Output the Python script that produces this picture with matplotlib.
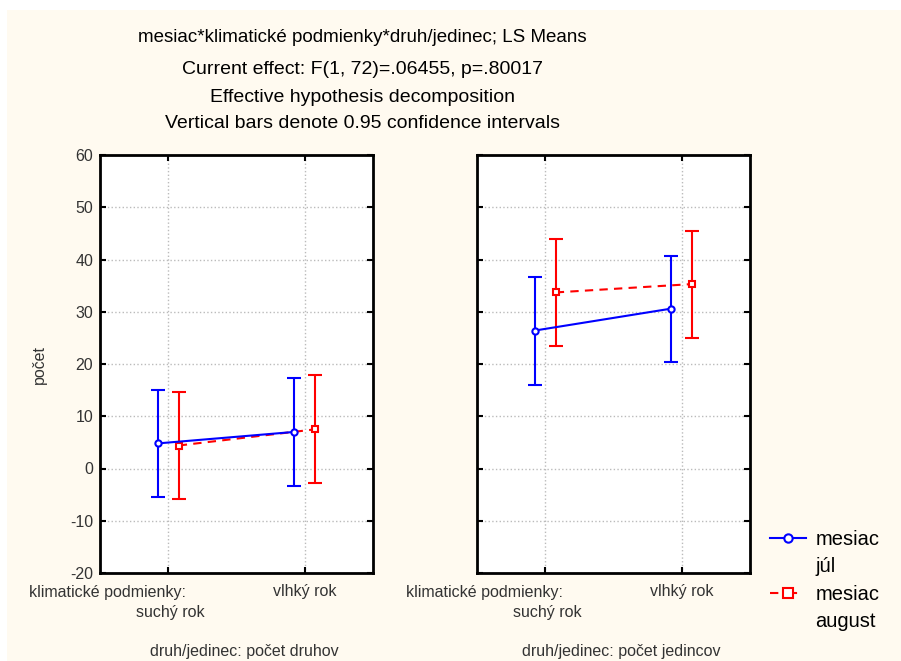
import matplotlib
matplotlib.use('Agg')
from matplotlib import pyplot as plt
from matplotlib.lines import Line2D
from matplotlib.patches import Rectangle
import numpy as np

plt.rcParams['font.family'] = ['Liberation Sans', 'DejaVu Sans']
plt.rcParams['axes.unicode_minus'] = False

# categories on x axis
categories = ['suchý rok', 'vlhký rok']
factor_name = 'klimatické podmienky:'
panel_labels = ['druh/jedinec: počet druhov', 'druh/jedinec: počet jedincov']

# LS means and 0.95 CI bounds, panel 1 (počet druhov)
jul_mean_1 = [4.8, 7.0]
jul_low_1 = [-5.4, -3.3]
jul_high_1 = [15.0, 17.3]
aug_mean_1 = [4.4, 7.5]
aug_low_1 = [-5.9, -2.7]
aug_high_1 = [14.6, 17.9]

# panel 2 (počet jedincov)
jul_mean_2 = [26.4, 30.6]
jul_low_2 = [16.0, 20.3]
jul_high_2 = [36.6, 40.7]
aug_mean_2 = [33.7, 35.3]
aug_low_2 = [23.5, 25.0]
aug_high_2 = [43.9, 45.4]

titles = ['mesiac*klimatické podmienky*druh/jedinec; LS Means',
          'Current effect: F(1, 72)=.06455, p=.80017',
          'Effective hypothesis decomposition',
          'Vertical bars denote 0.95 confidence intervals']

fig = plt.figure(figsize=(9.01, 6.61), dpi=100)
fig.patch.set_facecolor('white')
fig.patches.append(Rectangle((7/901, 0), 1, 1 - 10/661, transform=fig.transFigure,
                             facecolor='#FFFAF0', edgecolor='none', zorder=-10))

# title lines
for t, yy, fs in zip(titles, [37, 70, 97, 124], [13.5, 14, 14, 14]):
    fig.text(0.402, 1 - yy/661, t, ha='center', va='center', fontsize=fs, color='black')

panels = [
    (jul_mean_1, jul_low_1, jul_high_1, aug_mean_1, aug_low_1, aug_high_1),
    (jul_mean_2, jul_low_2, jul_high_2, aug_mean_2, aug_low_2, aug_high_2),
]
lefts = [100/901, 477/901]
x = np.arange(len(categories))
off = 0.077
tick_col = '#333333'

for i, (jm, jl, jh, am, al, ah) in enumerate(panels):
    ax = fig.add_axes([lefts[i], 88/661, 273/901, 418/661])
    ax.set_facecolor('white')
    jm, jl, jh = np.array(jm), np.array(jl), np.array(jh)
    am, al, ah = np.array(am), np.array(al), np.array(ah)

    ax.errorbar(x - off, jm, yerr=[jm - jl, jh - jm], color='blue', lw=1.5,
                capsize=5, capthick=1.5, elinewidth=1.5, marker='o', ms=4.5,
                mfc='white', mec='blue', mew=1.5, zorder=3)
    ax.errorbar(x + off, am, yerr=[am - al, ah - am], color='red', lw=1.5,
                capsize=5, capthick=1.5, elinewidth=1.5, fmt='none', zorder=2)
    ax.plot(x + off, am, color='red', lw=1.5, ls=(0, (4, 3)), marker='s', ms=5,
            mfc='white', mec='red', mew=1.5, zorder=2.5)

    ax.set_xlim(-0.5, 1.5)
    ax.set_ylim(-20, 60)
    ax.set_yticks(np.arange(-20, 61, 10))
    ax.set_xticks(x)
    # first category label is drawn as two separate lines below
    ax.set_xticklabels([''] + categories[1:], fontsize=11.5, color=tick_col)
    ax.annotate(factor_name, xy=(0, 0), xycoords=ax.get_xaxis_transform(),
                xytext=(12.5, -8.5), textcoords='offset points', ha='right', va='top',
                fontsize=11.5, color=tick_col, annotation_clip=False)
    ax.annotate(categories[0], xy=(0, 0), xycoords=ax.get_xaxis_transform(),
                xytext=(1.5, -23), textcoords='offset points', ha='center', va='top',
                fontsize=11.5, color=tick_col, annotation_clip=False)
    ax.tick_params(direction='in', top=True, right=True, length=4, width=1.5,
                   pad=8, labelsize=11.5, labelcolor=tick_col)
    ax.tick_params(axis='y', pad=5)
    if i == 1:
        ax.set_yticklabels([])
    else:
        ax.set_ylabel('počet', fontsize=11.5, color=tick_col)
        ax.yaxis.set_label_coords(-0.194, 0.5)
    ax.set_xlabel(panel_labels[i], fontsize=11.5, color=tick_col)
    ax.xaxis.set_label_coords(0.53, -0.17)
    ax.grid(True, ls=':', color='#bbbbbb', lw=1)
    ax.set_axisbelow(True)
    for s in ax.spines.values():
        s.set_linewidth(2)
        s.set_color('black')

# legend
h_jul = Line2D([], [], color='blue', lw=1.5, marker='o', ms=6, mfc='white', mec='blue', mew=1.5)
h_aug = Line2D([], [], color='red', lw=1.5, ls=(0, (4, 5)), marker='s', ms=6.5,
               mfc='white', mec='red', mew=1.5)
h_none = Line2D([], [], color='none')
fig.legend([h_jul, h_none, h_aug, h_none], ['mesiac', 'júl', 'mesiac', 'august'],
           loc='upper left', bbox_to_anchor=(770/901, 1 - 530/661), frameon=False,
           fontsize=14.5, handlelength=1.8, handletextpad=0.45, labelspacing=0.42,
           borderaxespad=0, borderpad=0)

fig.savefig('out.png', dpi=100, facecolor=fig.get_facecolor())
